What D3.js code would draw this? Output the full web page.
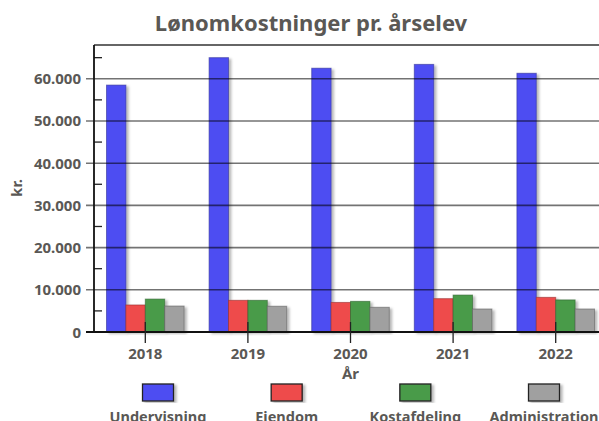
<!DOCTYPE html>
<html><head><meta charset="utf-8">
<script src="https://cdn.jsdelivr.net/npm/d3@7"></script>
<style>body{margin:0;background:#fff;overflow:hidden}svg{display:block}</style>
</head><body>
<script>
const categories = ["2018","2019","2020","2021","2022"];
const seriesNames = ["Undervisning","Eiendom","Kostafdeling","Administration"];
const undervisning = [58500, 65000, 62500, 63400, 61300];
const eiendom = [6400, 7500, 7000, 7900, 8200];
const kostafdeling = [7800, 7500, 7250, 8750, 7600];
const administration = [6150, 6100, 5850, 5450, 5450];
const yMajorTicks = [0,10000,20000,30000,40000,50000,60000];
const yMinorTicks = [5000,15000,25000,35000,45000,55000,65000];
const colors = ["#4d4df2","#ee4b4b","#4a9b4a","#a0a0a0"];
const strokes = ["#33339a","#9a3030","#2f662f","#606060"];

const series = [undervisning, eiendom, kostafdeling, administration];
const W = 599, H = 421;
const mLeft = 94, mTop = 45, mBottom = 332, mRight = 607;
const txt = "#5a5855";
const fmt = d => d3.format(",")(d).replace(/,/g, ".");

const svg = d3.select("body").append("svg").attr("width", W).attr("height", H);
const defs = svg.append("defs");
const f = defs.append("filter").attr("id","sh").attr("x","-20%").attr("y","-5%").attr("width","150%").attr("height","115%");
f.append("feDropShadow").attr("dx",2.5).attr("dy",1.5).attr("stdDeviation",1.2).attr("flood-color","#000").attr("flood-opacity",0.28);

const x = d3.scaleBand().domain(categories).range([mLeft, mRight]).paddingInner(25/102.6).paddingOuter(12.5/102.6);
const xs = d3.scaleBand().domain(d3.range(4)).range([0, x.bandwidth()]);
const y = d3.scaleLinear().domain([0, 68000]).range([mBottom, mTop]);

// title
svg.append("text").attr("x", 311).attr("y", 31).attr("text-anchor","middle")
  .attr("font-family","Noto Sans").attr("font-weight","bold").attr("font-size",22)
  .attr("fill", txt).text("Lønomkostninger pr. årselev");

// bars
const groups = svg.append("g").selectAll("g").data(categories).join("g")
  .attr("transform", d => `translate(${x(d)},0)`);
groups.selectAll("rect").data((c,i) => series.map((s,k) => ({k, v: s[i]}))).join("rect")
  .attr("x", d => xs(d.k)).attr("width", xs.bandwidth())
  .attr("y", d => y(d.v)).attr("height", d => y(0) - y(d.v))
  .attr("fill", d => colors[d.k]).attr("stroke", d => strokes[d.k]).attr("stroke-opacity",0.6)
  .attr("stroke-width",1).attr("filter","url(#sh)");

// gridlines
svg.append("g").selectAll("line").data(yMajorTicks.filter(d => d > 0)).join("line")
  .attr("x1", mLeft - 8).attr("x2", W).attr("y1", d => y(d)).attr("y2", d => y(d))
  .attr("stroke","#000").attr("stroke-opacity",0.55).attr("stroke-width",1.6);
// minor ticks
svg.append("g").selectAll("line").data(yMinorTicks).join("line")
  .attr("x1", mLeft).attr("x2", mLeft + 8).attr("y1", d => y(d)).attr("y2", d => y(d))
  .attr("stroke","#222").attr("stroke-width",1.3);
// top border
svg.append("line").attr("x1", mLeft).attr("x2", W).attr("y1", mTop).attr("y2", mTop)
  .attr("stroke","#333").attr("stroke-width",1.6);
// axes
svg.append("line").attr("x1", mLeft).attr("x2", mLeft).attr("y1", mTop).attr("y2", mBottom)
  .attr("stroke","#111").attr("stroke-width",1.8);
svg.append("line").attr("x1", mLeft - 8).attr("x2", W).attr("y1", mBottom).attr("y2", mBottom)
  .attr("stroke","#111").attr("stroke-width",1.8);
// x ticks
svg.append("g").selectAll("line").data(categories).join("line")
  .attr("x1", d => x(d) + x.bandwidth()/2).attr("x2", d => x(d) + x.bandwidth()/2)
  .attr("y1", mBottom - 10).attr("y2", mBottom + 11).attr("stroke","#222").attr("stroke-width",1.3);

// y labels
svg.append("g").selectAll("text").data(yMajorTicks).join("text")
  .attr("x", 81).attr("y", d => y(d) + 5.5).attr("text-anchor","end")
  .attr("font-family","Noto Sans").attr("font-weight","bold").attr("font-size",15)
  .attr("fill", txt).text(fmt);
// x labels
svg.append("g").selectAll("text").data(categories).join("text")
  .attr("x", d => x(d) + x.bandwidth()/2).attr("y", 359).attr("text-anchor","middle")
  .attr("font-family","Noto Sans").attr("font-weight","bold").attr("font-size",15)
  .attr("fill", txt).text(d => d);
svg.append("text").attr("x", x("2020") + x.bandwidth()/2).attr("y", 379).attr("text-anchor","middle")
  .attr("font-family","Noto Sans").attr("font-weight","bold").attr("font-size",15)
  .attr("fill", txt).text("År");
svg.append("text").attr("transform","translate(21.5,188) rotate(-90)").attr("text-anchor","middle")
  .attr("font-family","Noto Sans").attr("font-weight","bold").attr("font-size",15)
  .attr("fill", txt).text("kr.");

// legend
const lx = d3.scalePoint().domain(seriesNames).range([158, 544]);
const lg = svg.append("g").selectAll("g").data(seriesNames).join("g")
  .attr("transform", d => `translate(${lx(d)},0)`);
lg.append("rect").attr("x",-15.5).attr("y",384).attr("width",31).attr("height",17)
  .attr("fill",(d,i)=>colors[i]).attr("stroke","#222").attr("stroke-width",1.3)
  .attr("filter","url(#sh)");
lg.append("text").attr("y", 421.5).attr("text-anchor","middle")
  .attr("font-family","Noto Sans").attr("font-weight","bold").attr("font-size",14.5)
  .attr("fill", txt).text(d => d);
</script>
</body></html>
